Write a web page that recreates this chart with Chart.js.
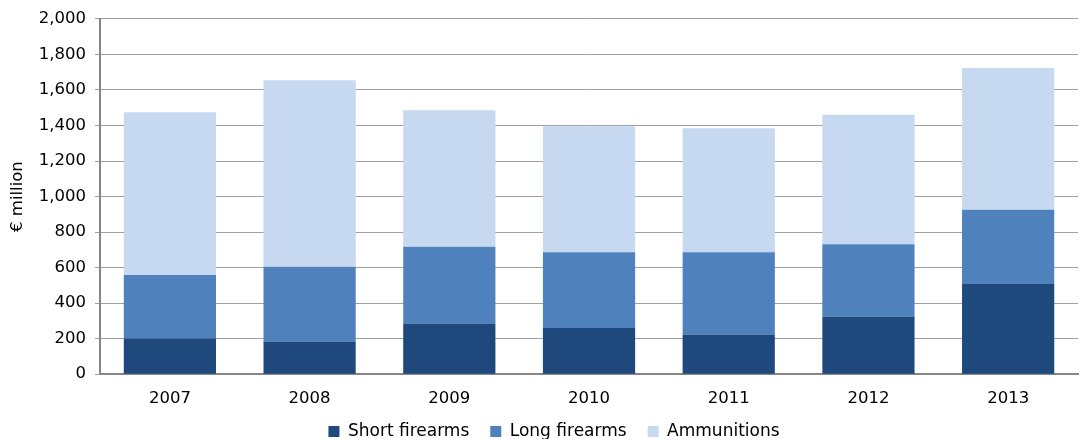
<!DOCTYPE html>
<html>
<head>
<meta charset="utf-8">
<script src="https://cdn.jsdelivr.net/npm/chart.js@4"></script>
<style>
  html, body { margin: 0; padding: 0; background: #fff; }
  #wrap { width: 1089px; height: 439px; }
</style>
</head>
<body>
<div id="wrap"><canvas id="chart"></canvas></div>
<script>
const years = ['2007', '2008', '2009', '2010', '2011', '2012', '2013'];
// € million, stacked
const shortFirearms = [201, 184, 286, 260, 224, 325, 508];
const longFirearms = [357, 421, 432, 426, 462, 406, 418];
const ammunitions = [916, 1050, 768, 710, 698, 730, 798];
const yTicks = [0, 200, 400, 600, 800, 1000, 1200, 1400, 1600, 1800, 2000];

const font = { family: '"DejaVu Sans", Verdana, sans-serif', size: 16.5 };
const legendFont = { family: '"DejaVu Sans", Verdana, sans-serif', size: 17 };

// legend needs wide gaps between items but sits close under the axis labels
const LEGEND_H = 15;
const LEGEND_SHIFT = 22;
const LEGEND_DX = 12;
const legendNudge = {
  id: 'legendNudge',
  afterLayout(chart) {
    const lg = chart.legend;
    lg.top -= LEGEND_SHIFT;
    lg.bottom = chart.height; // legend clips to its box
    lg.left += LEGEND_DX;
    lg.right += LEGEND_DX;
  },
};

const chart = new Chart(document.getElementById('chart'), {
  type: 'bar',
  data: {
    labels: years,
    datasets: [
      { label: 'Short firearms', data: shortFirearms, backgroundColor: '#1f497d' },
      { label: 'Long firearms', data: longFirearms, backgroundColor: '#4f81bd' },
      { label: 'Ammunitions', data: ammunitions, backgroundColor: '#c6d9f0' },
    ],
  },
  options: {
    responsive: true,
    maintainAspectRatio: false,
    animation: false,
    layout: { padding: { top: 11, right: 11, left: 6 } },
    datasets: { bar: { barPercentage: 0.66, categoryPercentage: 1 } },
    plugins: {
      legend: {
        position: 'bottom',
        labels: { boxWidth: 11, boxHeight: 11, color: '#000', font: legendFont, padding: 21 },
      },
      tooltip: { enabled: false },
    },
    scales: {
      x: {
        stacked: true,
        grid: { display: false, drawTicks: false },
        border: { color: '#868686', width: 2 },
        ticks: { color: '#000', font, padding: 15 },
      },
      y: {
        stacked: true,
        min: 0,
        max: 2000,
        afterBuildTicks: (axis) => { axis.ticks = yTicks.map((v) => ({ value: v })); },
        grid: { color: '#a0a0a0', tickLength: 5 },
        border: { color: '#868686', width: 2 },
        ticks: { color: '#000', font, padding: 9, callback: (v) => v.toLocaleString('en-US') },
        title: { display: true, text: '€ million', color: '#000', font, padding: 2 },
      },
    },
  },
  plugins: [legendNudge],
});

const baseFit = chart.legend.fit;
chart.legend.fit = function () {
  baseFit.call(this);
  this.height = LEGEND_H;
};
chart.update();
</script>
</body>
</html>
